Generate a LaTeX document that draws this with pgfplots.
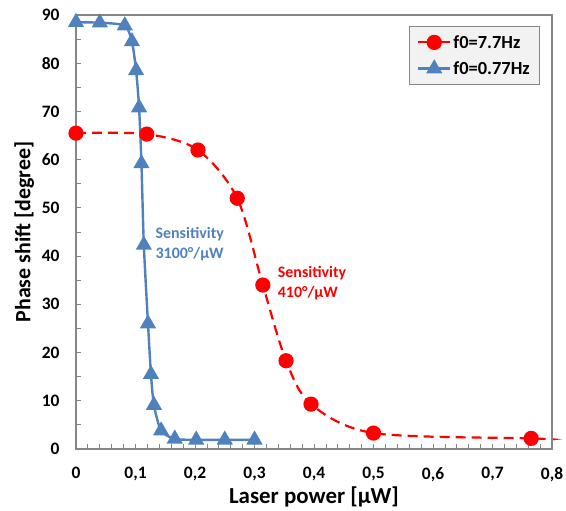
\documentclass[border=0pt]{standalone}
\usepackage{pgfplots}
\pgfplotsset{compat=1.18}
\usepackage{fontspec}
\setmainfont{Carlito}
\usetikzlibrary{calc}
\definecolor{sblue}{HTML}{4F81BD}
\definecolor{axgray}{HTML}{868686}
\begin{document}
\begin{tikzpicture}[x=1bp,y=1bp]
\begin{axis}[
  scale only axis,
  width=476bp, height=434bp,
  xmin=0, xmax=0.8, ymin=0, ymax=90,
  xtick={0,0.1,...,0.8}, ytick={0,10,...,90},
  minor x tick num=4, minor y tick num=1,
  tick align=inside,
  xtick pos=left, ytick pos=left,
  major tick length=5bp, minor tick length=5bp,
  axis line style={axgray, line width=1.4bp},
  every tick/.style={axgray, line width=0.8bp},
  clip=false,
  /pgf/number format/assume math mode=true,
  /pgf/number format/use comma,
  /pgf/number format/fixed,
  /pgf/number format/precision=1,
  xticklabel style={font=\fontsize{17.5}{20}\selectfont\bfseries, yshift=-15bp},
  yticklabel style={font=\fontsize{17.5}{20}\selectfont\bfseries, xshift=-13bp},
  xlabel={Laser power [µW]},
  ylabel={Phase shift [degree]},
  xlabel style={font=\fontsize{23}{26}\selectfont\bfseries, yshift=2bp},
  ylabel style={font=\fontsize{22}{25}\selectfont\bfseries, yshift=1bp},
  legend style={at={(0.975,0.975)}, anchor=north east,
    fill=black!5, draw=axgray, line width=0.8bp,
    font=\fontsize{18.5}{21}\selectfont\bfseries,
    inner xsep=8bp, inner ysep=7bp, row sep=8bp},
  legend cell align=left,
  legend image code/.code={
    \draw[#1, solid] (0bp,0bp) -- (32bp,0bp);
    \path[#1, solid] plot coordinates {(16bp,0bp)};
  },
]
\coordinate (bl) at (rel axis cs:0,0);
\addplot[red, line width=2.2bp, dash pattern=on 10bp off 6bp, smooth, tension=0.5,
  mark=*, mark size=6.5bp, mark options={solid, fill=red, draw=red},
  mark indices={1,2,3,4,5,6,7,8,9}]
  coordinates {
  (0,65.5) (0.119,65.3) (0.205,62.0) (0.271,52.0) (0.314,34.0)
  (0.353,18.3) (0.395,9.3) (0.500,3.3) (0.765,2.2) (0.800,2.0)
  };
\addlegendentry{f0=7.7Hz}
\addplot[sblue, line width=2.4bp, smooth, tension=0.4,
  mark=triangle*, mark size=7bp, mark options={solid, fill=sblue, draw=sblue}]
  coordinates {
  (0,88.5) (0.040,88.4) (0.082,87.8) (0.094,84.5) (0.101,78.5)
  (0.106,70.8) (0.110,59.2) (0.114,42.3) (0.121,26.0) (0.126,15.5)
  (0.131,9.1) (0.143,3.8) (0.166,2.1) (0.202,1.9) (0.250,1.9) (0.300,1.9)
  };
\addlegendentry{f0=0.77Hz}
\draw[axgray, line width=1.4bp] (rel axis cs:0,1) -- (rel axis cs:1,1) -- (rel axis cs:1,0);
\node[anchor=north west, align=left, text=sblue, inner sep=0pt,
  font=\fontsize{16}{20}\selectfont\bfseries] at (axis cs:0.1335,46.0) {Sensitivity\\3100°/µW};
\node[anchor=north west, align=left, text=red, inner sep=0pt,
  font=\fontsize{16}{20}\selectfont\bfseries] at (axis cs:0.339,37.9) {Sensitivity\\410°/µW};
\end{axis}
\pgfresetboundingbox
\path ($(bl)+(-76bp,-62bp)$) rectangle ($(bl)+(490bp,449bp)$);
\end{tikzpicture}
\end{document}
